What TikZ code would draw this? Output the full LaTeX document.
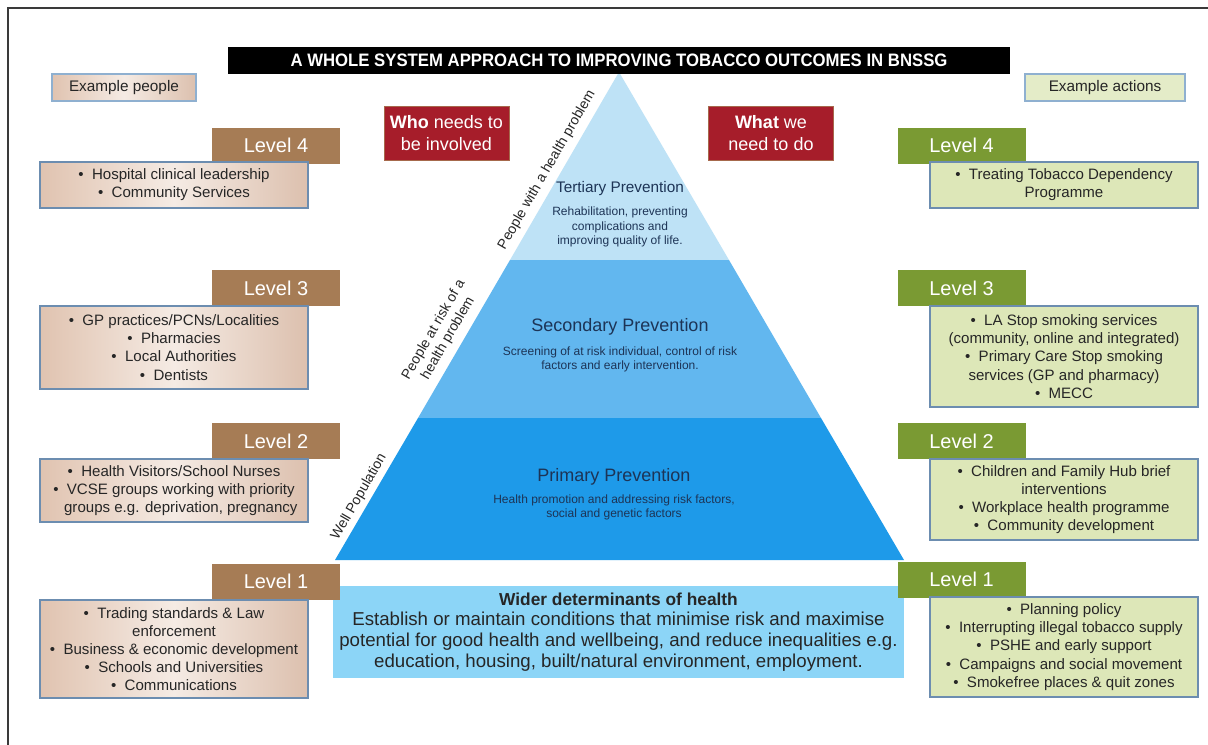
\documentclass[tikz,border=0pt]{standalone}
\usepackage{fontspec}
\setmainfont{Liberation Sans}

\definecolor{frameGrey}{HTML}{3A3A3A}
\definecolor{brownTab}{HTML}{A67C55}
\definecolor{oliveTab}{HTML}{7A9A33}
\definecolor{boxEdge}{HTML}{6C8DB0}
\definecolor{pinkL}{HTML}{E0C3B0}
\definecolor{pinkM}{HTML}{F5EBE4}
\definecolor{pinkR}{HTML}{DCC0AE}
\definecolor{greenFill}{HTML}{DDE7B8}
\definecolor{greenLight}{HTML}{E4ECC8}
\definecolor{lightEdge}{HTML}{8FB0D0}
\definecolor{crimson}{HTML}{A61D2A}
\definecolor{tertBlue}{HTML}{BEE2F6}
\definecolor{secBlue}{HTML}{62B7EF}
\definecolor{primBlue}{HTML}{1E9AE9}
\definecolor{detBlue}{HTML}{8CD5F7}
\definecolor{navy}{HTML}{1D3456}
\definecolor{ink}{HTML}{262626}

\begin{document}
\begin{tikzpicture}[x=0.75pt,y=-0.75pt,
  every node/.style={inner sep=0pt, outer sep=0pt},
  sz/.style 2 args={minimum width=#1*0.75pt, minimum height=#2*0.75pt},
  leveltab/.style={text=white, font=\fontsize{15}{18}\selectfont, sz={128}{36}},
  tabbrown/.style={leveltab, fill=brownTab},
  tabolive/.style={leveltab, fill=oliveTab},
  listbox/.style={draw=boxEdge, line width=1.1pt, align=center, text=ink,
    font=\fontsize{11.3}{13.6}\selectfont},
  peoplebox/.style={listbox, left color=pinkL, right color=pinkR, middle color=pinkM},
  actionbox/.style={listbox, fill=greenFill},
  headbox/.style={draw=lightEdge, line width=1pt, text=ink,
    font=\fontsize{11.5}{13}\selectfont},
  crimbox/.style={fill=crimson, draw=brownTab!80!crimson, line width=0.6pt,
    text=white, align=center, font=\fontsize{13.5}{16.5}\selectfont, sz={125}{54}},
  tiertitle/.style={text=navy, font=\fontsize{13.5}{16}\selectfont},
  tiernote/.style={text=navy, align=center, font=\fontsize{9}{10.6}\selectfont},
  sidelabel/.style={text=ink, align=center, rotate=60, font=\fontsize{10.5}{12.5}\selectfont}
]
\useasboundingbox (0,0) rectangle (1208,744);
\clip (0,0) rectangle (1208,744);
\fill[white] (0,0) rectangle (1208,744);
% outer frame, running off the page on the right and bottom
\draw[frameGrey, line width=1.2pt] (8,8) rectangle (1216,752);

% the prevention pyramid
\coordinate (apex) at (619,72);
\coordinate (tl) at (510,260);  \coordinate (tr) at (729,260);
\coordinate (ml) at (418,418);  \coordinate (mr) at (821,418);
\coordinate (bl) at (335,560);  \coordinate (br) at (904,560);
\fill[tertBlue] (apex) -- (tl) -- (tr) -- cycle;
\fill[secBlue] (tl) -- (ml) -- (mr) -- (tr) -- cycle;
\fill[primBlue] (ml) -- (bl) -- (br) -- (mr) -- cycle;

\node[tiertitle, font=\fontsize{11.5}{14}\selectfont] (tert) at (620,189) {Tertiary Prevention};
\node[tiernote] (tertnote) at (620,227) {Rehabilitation, preventing\\complications and\\improving quality of life.};
\node[tiertitle] (sec) at (620,327) {Secondary Prevention};
\node[tiernote] (secnote) at (620,359) {Screening of at risk individual, control of risk\\factors and early intervention.};
\node[tiertitle] (prim) at (614,477) {Primary Prevention};
\node[tiernote] (primnote) at (614,507) {Health promotion and addressing risk factors,\\social and genetic factors};

\node[sidelabel] (lab3) at (547,170) {People with a health problem};
\node[sidelabel] (lab2) at (441,334) {People at risk of a\\health problem};
\node[sidelabel] (lab1) at (359,497) {Well Population};

% wider determinants band
\node[fill=detBlue, sz={571}{92}, align=center, text=ink,
  font=\fontsize{14}{15.6}\selectfont] (wider) at (618.5,632)
  {{\fontsize{13}{15.6}\selectfont\bfseries Wider determinants of health}\\
   Establish or maintain conditions that minimise risk and maximise\\
   potential for good health and wellbeing, and reduce inequalities e.g.\\
   education, housing, built/natural environment, employment.};

% title bar
\node[fill=black, text=white, sz={782}{27},
  font=\fontsize{13.5}{16}\selectfont\bfseries] (title) at (619,60.5)
  {\scalebox{0.93}[1]{A WHOLE SYSTEM APPROACH TO IMPROVING TOBACCO OUTCOMES IN BNSSG}};

% column headings
\node[headbox, left color=pinkL, right color=pinkR, middle color=pinkM,
  sz={144}{27}] (expeople) at (124,87.5) {Example people};
\node[headbox, fill=greenLight, sz={160}{27}] (exactions) at (1105,87.5) {Example actions};
\node[crimbox] (who) at (446.5,133) {\textbf{Who} needs to\\be involved};
\node[crimbox] (what) at (771,133) {\textbf{What} we\\need to do};

% left column: example people
\node[tabbrown] (lt4) at (276,145.5) {Level 4};
\node[peoplebox, sz={268}{46}] (lb4) at (174,185)
  {\textbullet\ \ Hospital clinical leadership\\\textbullet\ \ Community Services};
\node[tabbrown] (lt3) at (276,288) {Level 3};
\node[peoplebox, sz={268}{83}] (lb3) at (174,347.5)
  {\textbullet\ \ GP practices/PCNs/Localities\\\textbullet\ \ Pharmacies\\
   \textbullet\ \ Local Authorities\\\textbullet\ \ Dentists};
\node[tabbrown] (lt2) at (276,441) {Level 2};
\node[peoplebox, sz={268}{63}] (lb2) at (174,490.5)
  {\textbullet\ \ Health Visitors/School Nurses\\
   \textbullet\ \ VCSE groups working with priority\\
   \hphantom{\textbullet\ \ }groups e.g. deprivation, pregnancy};
\node[tabbrown] (lt1) at (276,581.5) {Level 1};
\node[peoplebox, sz={268}{98}] (lb1) at (174,649)
  {\textbullet\ \ Trading standards \& Law\\enforcement\\
   \textbullet\ \ Business \& economic development\\
   \textbullet\ \ Schools and Universities\\\textbullet\ \ Communications};

% right column: example actions
\node[tabolive] (rt4) at (961.5,145.5) {Level 4};
\node[actionbox, sz={268}{46}] (rb4) at (1064,185)
  {\textbullet\ \ Treating Tobacco Dependency\\Programme};
\node[tabolive] (rt3) at (961.5,288) {Level 3};
\node[actionbox, sz={268}{101}] (rb3) at (1064,356.5)
  {\textbullet\ \ LA Stop smoking services\\(community, online and integrated)\\
   \textbullet\ \ Primary Care Stop smoking\\services (GP and pharmacy)\\
   \textbullet\ \ MECC};
\node[tabolive] (rt2) at (961.5,441) {Level 2};
\node[actionbox, sz={268}{81}] (rb2) at (1064,499.5)
  {\textbullet\ \ Children and Family Hub brief\\interventions\\
   \textbullet\ \ Workplace health programme\\\textbullet\ \ Community development};
\node[tabolive] (rt1) at (961.5,579.5) {Level 1};
\node[actionbox, sz={268}{100}] (rb1) at (1064,647)
  {\textbullet\ \ Planning policy\\\textbullet\ \ Interrupting illegal tobacco supply\\
   \textbullet\ \ PSHE and early support\\\textbullet\ \ Campaigns and social movement\\
   \textbullet\ \ Smokefree places \& quit zones};
\end{tikzpicture}
\end{document}
